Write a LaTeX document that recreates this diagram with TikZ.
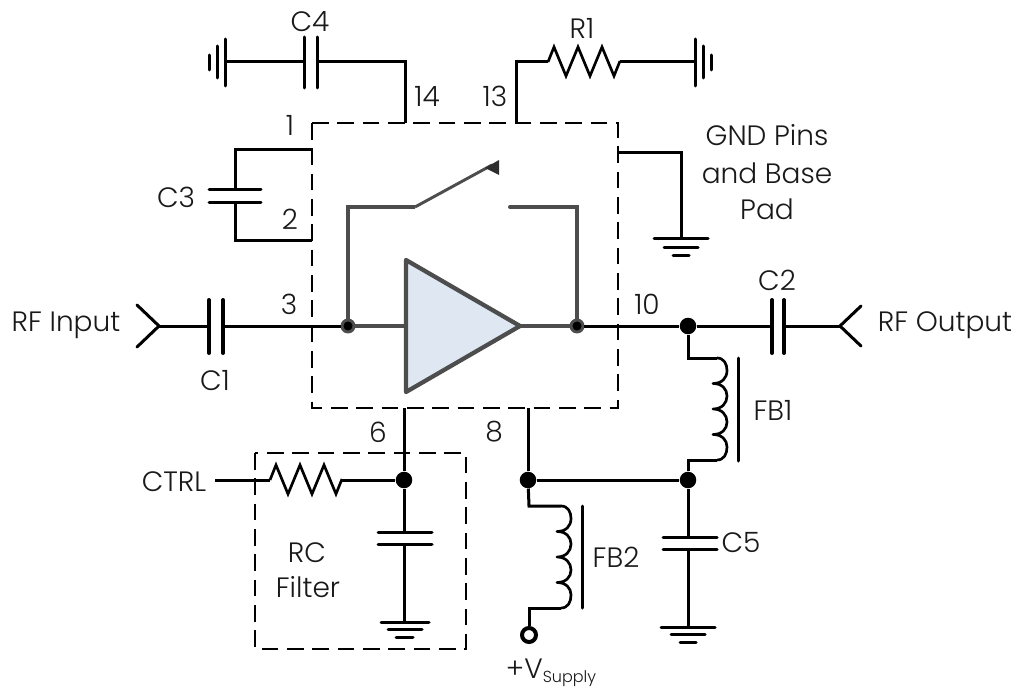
\documentclass[tikz,border=0pt]{standalone}
\usepackage{fontspec}
\setmainfont{Poppins}[UprightFont=* Light]
\definecolor{ampgrey}{HTML}{4D4D4D}
\definecolor{ampfill}{HTML}{DFE8F2}
\tikzset{
  lbl/.style={inner sep=0pt,font=\fontsize{21}{25}\selectfont,text=black!90},
  wire/.style={line width=2.25pt,black,line join=miter},
  fine wire/.style={line width=2pt,black},
  plate/.style={line width=2.25pt,black,line cap=round},
  thick plate/.style={line width=3pt,black,line cap=round},
  boxdash/.style={line width=1.5pt,black,dash pattern=on 12.5pt off 6.5pt},
  amp line/.style={line width=3pt,ampgrey,line join=miter},
  bigdot/.style={circle,fill=black,inner sep=0pt,minimum size=12.4pt},
  tapdot/.style={circle,fill=black,draw=ampgrey,line width=2.2pt,inner sep=0pt,minimum size=9pt},
  ringdot/.style={circle,draw=black,fill=white,line width=3pt,inner sep=0pt,minimum size=10.5pt},
  coil/.pic={
    \draw[fine wire,line join=round] (0,0) .. controls (7,0) and (10,6) .. (10,12.5)
      .. controls (10,20) and (5,25.5) .. (-4,25.5)
      .. controls (5,25.5) and (10,31) .. (10,38)
      .. controls (10,45) and (5,51) .. (-4,51)
      .. controls (5,51) and (10,57) .. (10,64)
      .. controls (10,71) and (5,76.5) .. (-4,76.5)
      .. controls (5,76.5) and (10,82) .. (10,89)
      .. controls (10,96) and (7,102) .. (0,102);
  },
  zigzag/.pic={
    \draw[fine wire,line join=miter] (0,0) -- ++(6,-15) -- ++(12,29) -- ++(12,-29) -- ++(12,29)
      -- ++(12,-29) -- ++(12,29) -- ++(6,-15);
  },
}
\begin{document}
\begin{tikzpicture}[x=0.75pt,y=-0.75pt]
\useasboundingbox (0,0) rectangle (1016,688);
\fill[white] (0,0) rectangle (1016,688);

% named points
\coordinate (boxTL) at (312,123);
\coordinate (boxBR) at (618,408);
\coordinate (p14) at (405,123);
\coordinate (p14c) at (405,62);
\coordinate (c4a) at (317,62);
\coordinate (c4b) at (304,62);
\coordinate (gndC4) at (225,62);
\coordinate (p13) at (516,123);
\coordinate (p13c) at (516,62);
\coordinate (r1a) at (548,62);
\coordinate (r1b) at (620,62);
\coordinate (gndR1) at (695,62);
\coordinate (p1) at (312,150);
\coordinate (p1c) at (235,150);
\coordinate (c3a) at (235,189);
\coordinate (c3b) at (235,202);
\coordinate (p2c) at (235,240);
\coordinate (p2) at (312,240);
\coordinate (gndP) at (618,153);
\coordinate (gndPc) at (681,153);
\coordinate (gndPg) at (681,238);
\coordinate (inApex) at (159,326);
\coordinate (c1a) at (209,326);
\coordinate (c1b) at (223,326);
\coordinate (c2a) at (772,326);
\coordinate (c2b) at (784,326);
\coordinate (outApex) at (840,326);
\coordinate (p6) at (404,408);
\coordinate (p8) at (528,408);
\coordinate (ctrlEnd) at (215,480);
\coordinate (r2a) at (270,480);
\coordinate (r2b) at (342,480);
\coordinate (c6a) at (404,532);
\coordinate (c6b) at (404,544);
\coordinate (g6) at (404,622);
\coordinate (c5a) at (688,537);
\coordinate (c5b) at (688,549);
\coordinate (g5) at (688,627);
\coordinate (fb1top) at (717,358);
\coordinate (fb1bot) at (717,460);
\coordinate (fb1c1) at (688,358);
\coordinate (fb1c2) at (688,460);
\coordinate (fb2top) at (561,506);
\coordinate (fb2bot) at (561,608);
\coordinate (fb2c1) at (529,506);
\coordinate (fb2c2) at (529,608);
\coordinate (sw1) at (348,207);
\coordinate (sw2) at (415,207);
\coordinate (sw3) at (492,165);
\coordinate (sw4) at (510,207);
\coordinate (sw5) at (577,207);

% dashed boxes
\draw[boxdash] (boxTL) rectangle (boxBR);
\draw[boxdash] (255,453) rectangle (466,649);

% junctions
\node[tapdot] (tapIn) at (348,326) {};
\node[tapdot] (tapOut) at (577,326) {};
\node[bigdot] (nOut) at (688,326) {};
\node[bigdot] (n6) at (404,480) {};
\node[bigdot] (n8) at (528,480) {};
\node[bigdot] (n5) at (688,480) {};
\node[ringdot] (vs) at (529,635) {};

% amplifier
\draw[amp line] (tapIn) -- (sw1) -- (sw2);
\draw[amp line,line width=2.2pt] (sw2) -- (sw3);
\fill[ampgrey!60!black] (499,160) -- (499,175) -- (485,168) -- cycle;
\draw[amp line,line cap=round] (sw4) -- (sw5) -- (tapOut);
\draw[ampgrey,line width=3.2pt,fill=ampfill,line join=round] (406,260) -- (406,392) -- (520,326) -- cycle;
\coordinate (ampIn) at (406,326);
\coordinate (ampOut) at (520,326);
\draw[amp line] (tapIn) -- (ampIn);
\draw[amp line] (ampOut) -- (tapOut);

\draw[wire] (c1b) -- (tapIn);
\draw[wire] (inApex) -- (c1a);
\draw[wire,line cap=round,line join=miter] (137,305) -- (inApex) -- (137,347);
\draw[thick plate] (209,300) -- (209,353);
\draw[thick plate] (223,300) -- (223,353);

\draw[wire] (tapOut) -- (nOut) -- (c2a);
\draw[wire] (c2b) -- (outApex);
\draw[wire,line cap=round] (861,306) -- (outApex) -- (861,346);
\draw[thick plate] (772,300) -- (772,353);
\draw[thick plate] (784,300) -- (784,353);

% C4
\draw[wire] (p14) -- (p14c) -- (c4a);
\draw[wire] (c4b) -- (gndC4);
\draw[plate] (304,37) -- (304,88);
\draw[plate] (317,37) -- (317,88);
\draw[plate] (225,39) -- (225,86);
\draw[plate] (217,46) -- (217,78);
\draw[plate] (209,55) -- (209,70);

% R1
\draw[wire] (p13) -- (p13c) -- (r1a);
\pic at (r1a) {zigzag};
\draw[wire] (r1b) -- (gndR1);
\draw[plate] (695,39) -- (695,86);
\draw[plate] (703,46) -- (703,78);
\draw[plate] (711,55) -- (711,70);

% C3
\draw[wire] (p1) -- (p1c) -- (c3a);
\draw[wire] (c3b) -- (p2c) -- (p2);
\draw[plate] (209,189) -- (261,189);
\draw[plate] (209,202) -- (261,202);

% GND pins
\draw[wire] (gndP) -- (gndPc) -- (gndPg);
\draw[plate] (654,238) -- (708,238);
\draw[plate] (664,247) -- (698,247);
\draw[plate] (673,255) -- (689,255);

% FB1
\draw[wire] (nOut) -- (fb1c1) -- (fb1top);
\pic at (fb1top) {coil};
\draw[wire] (fb1bot) -- (fb1c2) -- (n5);
\draw[plate] (738,358) -- (738,461);

% supply rail
\draw[wire] (p8) -- (n8) -- (n5);
\draw[wire] (n5) -- (c5a);
\draw[wire] (c5b) -- (g5);
\draw[plate] (663,537) -- (717,537);
\draw[plate] (663,549) -- (717,549);
\draw[plate] (661,627) -- (715,627);
\draw[plate] (671,634) -- (705,634);
\draw[plate] (680,642) -- (696,642);

% FB2
\draw[wire] (n8) -- (fb2c1) -- (fb2top);
\pic at (fb2top) {coil};
\draw[wire] (fb2bot) -- (fb2c2) -- (vs);
\draw[plate] (582,506) -- (582,608);

% pin 6 / RC filter
\draw[wire] (p6) -- (n6) -- (c6a);
\draw[wire] (c6b) -- (g6);
\draw[plate] (378,532) -- (432,532);
\draw[plate] (378,544) -- (432,544);
\draw[plate] (381,622) -- (429,622);
\draw[plate] (388,629) -- (422,629);
\draw[plate] (396,637) -- (413,637);
\draw[wire] (ctrlEnd) -- (r2a);
\pic at (r2a) {zigzag};
\draw[wire] (r2b) -- (n6);

% labels
\node[lbl] (tC4) at (310,22) {C4};
\node[lbl] (tR1) at (582,28) {R1};
\node[lbl] (t14) at (427,96) {14};
\node[lbl] (t13) at (495,96) {13};
\node[lbl] (t1) at (290,125) {1};
\node[lbl] (t2) at (290,219) {2};
\node[lbl] (tC3) at (176,197) {C3};
\node[lbl] (t3) at (289,304) {3};
\node[lbl] (tC1) at (215,381) {C1};
\node[lbl] (tIn) at (66,325) {RF Input};
\node[lbl] (t10) at (647,304) {10};
\node[lbl] (tC2) at (777,280) {C2};
\node[lbl] (tOut) at (945,325) {RF Output};
\node[lbl] (tFB1) at (773,410) {FB1};
\node[lbl] (tGa) at (767,135) {GND Pins};
\node[lbl] (tGb) at (767,173) {and Base};
\node[lbl] (tGc) at (767,209) {Pad};
\node[lbl] (t6) at (378,432) {6};
\node[lbl] (t8) at (494,432) {8};
\node[lbl] (tCTRL) at (174,482) {CTRL};
\node[lbl] (tRC) at (307,553) {RC};
\node[lbl] (tFilt) at (308,587) {Filter};
\node[lbl] (tFB2) at (616,557) {FB2};
\node[lbl] (tC5) at (741,543) {C5};
\node[lbl] (tV) at (551,673) {+V\raisebox{-3pt}{\fontsize{12}{14}\selectfont Supply}};
\end{tikzpicture}
\end{document}
